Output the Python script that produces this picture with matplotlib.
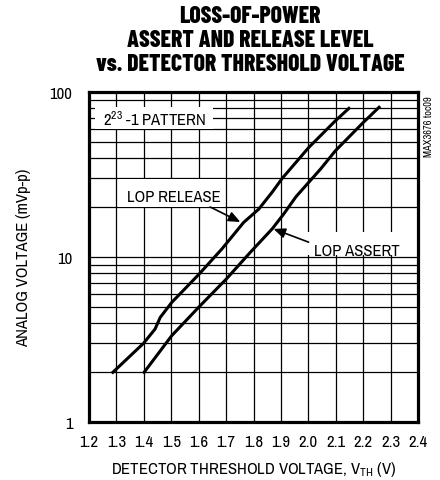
import matplotlib.pyplot as plt
from matplotlib.patches import Rectangle
from matplotlib.ticker import FixedLocator, NullFormatter

plt.rcParams['font.family'] = ['Archivo Narrow', 'DejaVu Sans']
plt.rcParams['mathtext.default'] = 'regular'

# curves (VTH in V, analog voltage in mVp-p)
release_x = [1.287, 1.399, 1.441, 1.460, 1.502, 1.602, 1.685, 1.764, 1.819, 1.868, 1.905, 2.002, 2.099, 2.148]
release_y = [2.0, 3.0, 3.66, 4.31, 5.31, 7.89, 11.2, 16.2, 19.5, 24.7, 30.0, 46.2, 67.0, 79.6]
assert_x = [1.401, 1.502, 1.602, 1.701, 1.789, 1.868, 1.910, 1.955, 2.045, 2.099, 2.201, 2.258]
assert_y = [2.0, 3.34, 5.0, 7.36, 10.7, 14.8, 18.2, 23.2, 34.2, 44.1, 65.5, 80.8]
xticks = [1.2, 1.3, 1.4, 1.5, 1.6, 1.7, 1.8, 1.9, 2.0, 2.1, 2.2, 2.3, 2.4]
ygrid = [2, 3, 4, 5, 6, 7, 8, 9, 10, 20, 30, 40, 50, 60, 70, 80, 90]

fig = plt.figure(figsize=(4.4, 4.81), dpi=100)
ax = fig.add_axes([89/440, 1-423/481, 329/440, 330/481])
ax.set_yscale('log')
ax.set_xlim(1.2, 2.4)
ax.set_ylim(1, 100)

for v in xticks[1:-1]:
    ax.axvline(v, color='black', lw=0.9, zorder=1)
for v in ygrid:
    ax.axhline(v, color='black', lw=0.9, zorder=1)

# white boxes behind the labels (cut the grid)
for x0, y0, w, h in [(0.018, 0.888, 0.36, 0.067), (0.088, 0.652, 0.325, 0.084), (0.657, 0.505, 0.34, 0.07)]:
    ax.add_patch(Rectangle((x0, y0), w, h, transform=ax.transAxes, facecolor='white', edgecolor='none', zorder=2))

ax.plot(release_x, release_y, color='black', lw=2.2, zorder=3)
ax.plot(assert_x, assert_y, color='black', lw=2.2, zorder=3)

ax.set_xticks(xticks)
ax.set_xticklabels(['%.1f' % v for v in xticks])
ax.yaxis.set_major_locator(FixedLocator([1, 10, 100]))
ax.set_yticklabels(['1', '10', '100'])
ax.yaxis.set_minor_formatter(NullFormatter())
ax.tick_params(axis='both', which='both', length=0, labelsize=12)
ax.tick_params(axis='x', pad=9)
ax.tick_params(axis='y', pad=12)
for s in ax.spines.values():
    s.set_linewidth(2.3)
    s.set_zorder(5)

ax.set_xlabel('DETECTOR THRESHOLD VOLTAGE, V$_{TH}$ (V)', fontsize=12, labelpad=7)
ax.set_ylabel('ANALOG VOLTAGE (mVp-p)', fontsize=12, labelpad=13)

ax.text(1.251, 69.5, '2$^{23}$ -1 PATTERN', fontsize=12, va='center', zorder=4)
ax.text(1.339, 23.4, 'LOP RELEASE', fontsize=12, va='center', zorder=4)
ax.annotate('', xy=(1.752, 16.3), xytext=(1.642, 20.1),
            arrowprops=dict(arrowstyle='-|>,head_length=0.7,head_width=0.3', color='black', lw=1.2,
                            shrinkA=0, shrinkB=0), zorder=4)
ax.text(2.019, 10.9, 'LOP ASSERT', fontsize=12, va='center', zorder=4)
ax.annotate('', xy=(1.873, 14.8), xytext=(2.001, 12.3),
            arrowprops=dict(arrowstyle='-|>,head_length=0.7,head_width=0.3', color='black', lw=1.2,
                            shrinkA=0, shrinkB=0), zorder=4)

fig.text(429/440, 1-127/481, 'MAX3676 toc09', rotation=90, fontsize=7.5, ha='center', va='center')

for t, y in [('LOSS-OF-POWER', 17), ('ASSERT AND RELEASE LEVEL', 41), ('vs. DETECTOR THRESHOLD VOLTAGE', 65)]:
    fig.text(250/440, 1-y/481, t, fontsize=17, fontweight=800, family=['Barlow Condensed', 'DejaVu Sans'],
             ha='center', va='center')

fig.savefig('out.png', dpi=100)
